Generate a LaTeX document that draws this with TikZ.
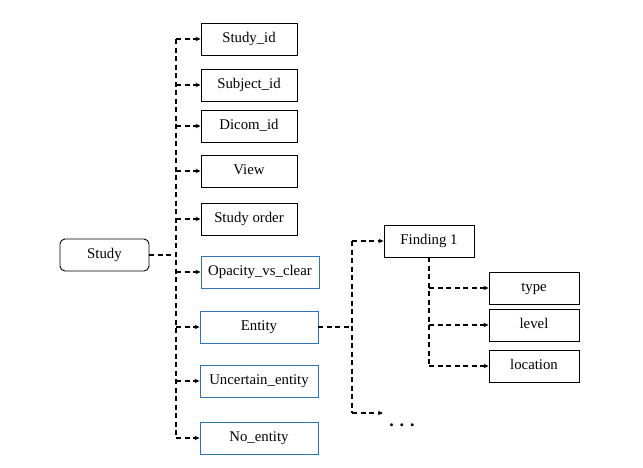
\documentclass[tikz,border=0pt]{standalone}
\usepackage{fontspec}
\setmainfont{Liberation Serif}
\usetikzlibrary{arrows.meta}

\begin{document}
\begin{tikzpicture}[x=1pt,y=-1pt,font=\fontsize{14.8}{16}\selectfont,
  box/.style={draw,line width=0.9pt,minimum width=96pt,minimum height=32pt,inner sep=0pt,
    text height=9pt,text depth=3pt},
  wide box/.style={box,draw={rgb,255:red,46;green,117;blue,182},minimum width=118pt},
  small box/.style={box,minimum width=90pt},
  root/.style={box,rounded corners=5pt,minimum width=89pt},
  link/.style={line width=1.5pt,dash pattern=on 5pt off 3.5pt},
  >={Stealth[length=5pt,width=4.5pt]}]
  \useasboundingbox (0,0) rectangle (643,467);
  \node[root] (study) at (104.5,255) {Study};
  \node[box] (sid) at (249,39) {Study\_id};
  \node[box] (subj) at (249,85) {Subject\_id};
  \node[box] (dicom) at (249,126) {Dicom\_id};
  \node[box] (view) at (249,171) {View};
  \node[box] (order) at (249,219) {Study order};
  \node[wide box] (opac) at (260,272) {Opacity\_vs\_clear};
  \node[wide box] (ent) at (259,327) {Entity};
  \node[wide box] (unc) at (259,381) {Uncertain\_entity};
  \node[wide box] (noent) at (259,438) {No\_entity};
  \node[small box] (find) at (429,241) {Finding 1};
  \node[small box] (type) at (534,288) {type};
  \node[small box] (level) at (534,325) {level};
  \node[small box] (loc) at (534,366) {location};
  \node[font=\fontsize{18}{18}\selectfont\bfseries] (dots) at (402,425) {. . .};
  % study tree
  \coordinate (trunk) at (176,255);
  \draw[link] (study.east) -- (trunk);
  \draw[link] (trunk |- sid) -- (trunk |- noent);
  \foreach \n in {sid,subj,dicom,view,order,opac,ent,unc,noent}
    \draw[link,->] (trunk |- \n) -- (\n.west);
  % entity tree
  \coordinate (etrunk) at (352,327);
  \coordinate (more) at (383,413);
  \draw[link] (ent.east) -- (etrunk);
  \draw[link] (etrunk |- find) -- (etrunk |- more);
  \draw[link,->] (etrunk |- find) -- (find.west);
  \draw[link,->] (etrunk |- more) -- (more);
  % finding tree
  \draw[link] (find.south) -- (find.south |- loc);
  \foreach \n in {type,level,loc}
    \draw[link,->] (find.south |- \n) -- (\n.west);
\end{tikzpicture}
\end{document}
